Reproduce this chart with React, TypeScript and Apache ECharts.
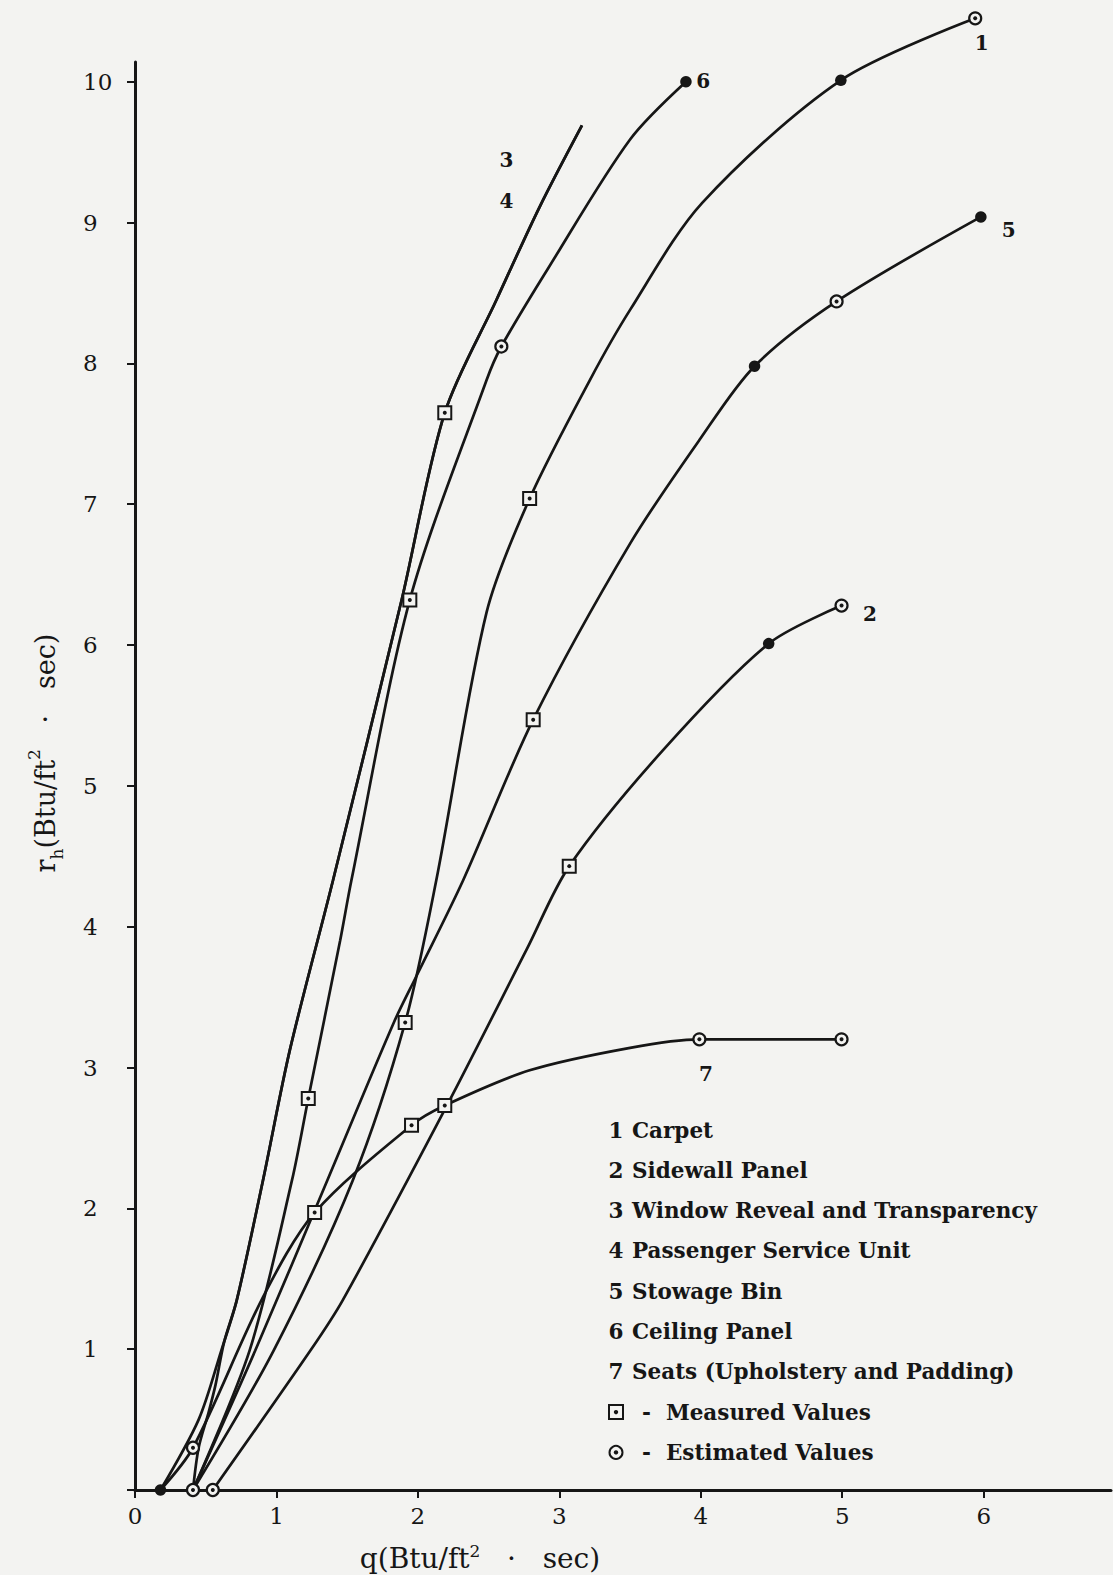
import React, { useEffect, useRef } from "react";
import * as echarts from "echarts";

// ---------- data ----------
const xTickValues = [0, 1, 2, 3, 4, 5, 6];
const yTickValues = [0, 1, 2, 3, 4, 5, 6, 7, 8, 9, 10];
const yLabelValues = [1, 2, 3, 4, 5, 6, 7, 8, 9, 10];

const carpet = [
  [0.41, 0], [0.98, 0.99], [1.54, 2.2], [1.91, 3.32], [2.13, 4.33], [2.485, 6.23],
  [2.79, 7.04], [3.215, 7.88], [3.5, 8.38], [4.01, 9.14], [4.99, 10.01], [5.94, 10.45],
];
const sidewallPanel = [
  [0.55, 0], [1.24, 0.99], [1.47, 1.35], [2.2, 2.72], [2.77, 3.84], [3.07, 4.43],
  [3.73, 5.25], [4.48, 6.01], [4.995, 6.28],
];
const windowReveal = [
  [0.18, 0], [0.45, 0.5], [0.61, 0.99], [0.72, 1.35], [0.905, 2.2], [1.095, 3.125],
  [1.4, 4.33], [1.885, 6.32], [2.19, 7.65], [2.555, 8.45], [2.86, 9.11], [3.16, 9.69],
];
const passengerServiceUnit = [
  [0.41, 0], [0.45, 0.3], [0.52, 0.55], [0.57, 0.75], [0.63, 1.05], [0.72, 1.35], [0.905, 2.2],
  [1.095, 3.125], [1.4, 4.33], [1.885, 6.32], [2.19, 7.65], [2.555, 8.45],
  [2.86, 9.11], [3.16, 9.69],
];
const stowageBin = [
  [0.41, 0], [0.85, 0.99], [1.36, 2.2], [1.83, 3.32], [1.99, 3.65], [2.32, 4.33],
  [2.815, 5.47], [3.5, 6.72], [4.0, 7.47], [4.38, 7.98], [4.96, 8.44], [5.98, 9.04],
];
const ceilingPanel = [
  [0.41, 0], [0.81, 0.99], [1.11, 2.2], [1.225, 2.78], [1.45, 3.9], [1.53, 4.33],
  [1.943, 6.32], [2.485, 7.88], [2.59, 8.12], [2.93, 8.69], [3.5, 9.59], [3.895, 10.0],
];
const seats = [
  [0.18, 0], [0.41, 0.3], [0.905, 1.37], [1.27, 1.97], [1.955, 2.59], [2.19, 2.73],
  [2.79, 2.98], [3.5, 3.14], [3.99, 3.2], [4.995, 3.2],
];

const measuredValues = [
  [2.19, 7.65], [1.943, 6.32], [1.225, 2.78], [2.79, 7.04], [1.91, 3.32], [2.815, 5.47],
  [3.07, 4.43], [1.27, 1.97], [1.955, 2.59], [2.19, 2.73],
];
const estimatedValues = [
  [5.94, 10.45], [4.96, 8.44], [2.59, 8.12], [4.995, 6.28], [3.99, 3.2], [4.995, 3.2],
  [0.41, 0], [0.55, 0], [0.41, 0.3],
];
const solidPoints = [
  [4.99, 10.01], [3.895, 10.0], [4.38, 7.98], [5.98, 9.04], [4.48, 6.01], [0.18, 0],
];

const curveNumbers = ["1", "2", "3", "4", "5", "6", "7"];
const curveNames = [
  "Carpet",
  "Sidewall Panel",
  "Window Reveal and Transparency",
  "Passenger Service Unit",
  "Stowage Bin",
  "Ceiling Panel",
  "Seats (Upholstery and Padding)",
];
const curveTagText = ["1", "6", "3", "4", "5", "2", "7"];
const curveTagAt = [
  [5.99, 10.27], [4.02, 10.0], [2.63, 9.44], [2.63, 9.15], [6.18, 8.94], [5.2, 6.22], [4.04, 2.95],
];

// ---------- styles ----------
const BG = "#f3f3f1";
const INK = "#161616";
const FONT = "DejaVu Serif";

function buildOption() {
  const curves = [carpet, sidewallPanel, windowReveal, passengerServiceUnit, stowageBin, ceilingPanel, seats];
  const lineSeries = curves.map((d, i) => ({
    type: "line",
    name: curveNumbers[i] + " " + curveNames[i],
    data: d,
    smooth: 0.3,
    showSymbol: false,
    symbol: "none",
    clip: false,
    silent: true,
    lineStyle: { color: INK, width: 2.7 },
    z: 2,
  }));

  const markerSeries = [
    {
      type: "scatter", name: "Measured Values", data: measuredValues, symbol: "rect", symbolSize: 13,
      clip: false, silent: true, z: 3,
      itemStyle: { color: BG, borderColor: INK, borderWidth: 2, opacity: 1 },
    },
    {
      type: "scatter", data: measuredValues, symbol: "circle", symbolSize: 4, clip: false, silent: true, z: 4,
      itemStyle: { color: INK, opacity: 1 },
    },
    {
      type: "scatter", name: "Estimated Values", data: estimatedValues, symbol: "circle", symbolSize: 12,
      clip: false, silent: true, z: 3,
      itemStyle: { color: BG, borderColor: INK, borderWidth: 2.2, opacity: 1 },
    },
    {
      type: "scatter", data: estimatedValues, symbol: "circle", symbolSize: 4, clip: false, silent: true, z: 4,
      itemStyle: { color: INK, opacity: 1 },
    },
    {
      type: "scatter", data: solidPoints, symbol: "circle", symbolSize: 11.5, clip: false, silent: true, z: 4,
      itemStyle: { color: INK, opacity: 1 },
    },
    {
      type: "scatter",
      data: curveTagAt.map((p, i) => ({ name: curveTagText[i], value: p })),
      symbolSize: 1,
      itemStyle: { color: BG },
      clip: false,
      silent: true,
      z: 5,
      label: {
        show: true, position: [0, 0], align: "center", verticalAlign: "middle",
        formatter: (p: any) => p.name,
        fontFamily: FONT, fontSize: 20, fontWeight: "bold", color: INK, opacity: 1,
        textBorderWidth: 0,
      },
    },
  ];

  const legendX = 616;
  const legendTextX = 632;
  const legendTop = 1130;
  const legendStep = 40.3;
  const legendFont = { fontFamily: FONT, fontSize: 21.5, fontWeight: "bold" as const };

  const graphics: any[] = [];
  curveNames.forEach((n, i) => {
    graphics.push({
      type: "text", x: legendX, y: legendTop + i * legendStep, silent: true,
      style: { text: curveNumbers[i], fill: INK, align: "center", verticalAlign: "middle", ...legendFont },
    });
    graphics.push({
      type: "text", x: legendTextX, y: legendTop + i * legendStep, silent: true,
      style: { text: n, fill: INK, align: "left", verticalAlign: "middle", ...legendFont },
    });
  });
  const mY = legendTop + 7 * legendStep;
  const eY = legendTop + 8 * legendStep;
  graphics.push(
    { type: "rect", shape: { x: legendX - 7, y: mY - 7, width: 14, height: 14 }, style: { fill: "none", stroke: INK, lineWidth: 2 }, silent: true },
    { type: "circle", shape: { cx: legendX, cy: mY, r: 2.2 }, style: { fill: INK }, silent: true },
    { type: "circle", shape: { cx: legendX, cy: eY, r: 6.5 }, style: { fill: "none", stroke: INK, lineWidth: 2 }, silent: true },
    { type: "circle", shape: { cx: legendX, cy: eY, r: 2.2 }, style: { fill: INK }, silent: true },
    {
      type: "text", x: legendTextX + 10, y: mY, silent: true,
      style: { text: "-  Measured Values", fill: INK, align: "left", verticalAlign: "middle", ...legendFont },
    },
    {
      type: "text", x: legendTextX + 10, y: eY, silent: true,
      style: { text: "-  Estimated Values", fill: INK, align: "left", verticalAlign: "middle", ...legendFont },
    },
    {
      type: "text", x: 480, y: 1557, silent: true,
      style: {
        text: "{a|q(Btu/ft}{s|2}{a|   ·   sec)}",
        align: "center", verticalAlign: "middle",
        rich: {
          a: { fontFamily: FONT, fontSize: 28, fill: INK, color: INK, lineHeight: 30, verticalAlign: "bottom" },
          s: { fontFamily: FONT, fontSize: 17, fill: INK, color: INK, lineHeight: 30, verticalAlign: "top" },
        },
      },
    },
    {
      type: "text", x: 45, y: 753, rotation: Math.PI / 2, silent: true,
      style: {
        text: "{a|r}{b|h}{a|(Btu/ft}{s|2}{a|   ·   sec)}",
        align: "center", verticalAlign: "middle",
        rich: {
          a: { fontFamily: FONT, fontSize: 27, fill: INK, color: INK, lineHeight: 40, verticalAlign: "middle" },
          b: { fontFamily: FONT, fontSize: 17, fill: INK, color: INK, lineHeight: 40, verticalAlign: "bottom" },
          s: { fontFamily: FONT, fontSize: 17, fill: INK, color: INK, lineHeight: 40, verticalAlign: "top" },
        },
      },
    }
  );

  return {
    animation: false,
    backgroundColor: BG,
    grid: { left: 135, right: 2, top: 62, bottom: 85, containLabel: false },
    xAxis: {
      type: "value",
      min: 0,
      max: 6.9,
      interval: 1,
      axisLine: { show: true, onZero: false, lineStyle: { color: INK, width: 3 } },
      axisTick: {
        show: true, inside: false, length: 8, customValues: xTickValues,
        lineStyle: { color: INK, width: 2 },
      },
      axisLabel: {
        show: true, customValues: xTickValues, margin: 14,
        formatter: (v: number) => (Number.isInteger(v) ? String(v) : ""),
        fontFamily: FONT, fontSize: 23, color: INK,
      },
      splitLine: { show: false },
    },
    yAxis: {
      type: "value",
      min: 0,
      max: 10.14,
      interval: 1,
      axisLine: { show: true, onZero: false, lineStyle: { color: INK, width: 3 } },
      axisTick: {
        show: true, inside: false, length: 8, customValues: yTickValues,
        lineStyle: { color: INK, width: 2 },
      },
      axisLabel: {
        show: true, customValues: yLabelValues, margin: 52, align: "left",
        formatter: (v: number) => (Number.isInteger(v) && v > 0 ? String(v) : ""),
        fontFamily: FONT, fontSize: 23, color: INK,
      },
      splitLine: { show: false },
    },
    series: [...lineSeries, ...markerSeries],
    graphic: graphics,
  };
}

export default function App() {
  const ref = useRef<HTMLDivElement>(null);
  useEffect(() => {
    if (!ref.current) return;
    const chart = echarts.init(ref.current, null, { renderer: "svg" });
    chart.setOption(buildOption() as any);
    return () => chart.dispose();
  }, []);
  return (
    <div
      ref={ref}
      style={{ position: "absolute", left: 0, top: 0, width: 1113, height: 1575, background: BG }}
    />
  );
}
